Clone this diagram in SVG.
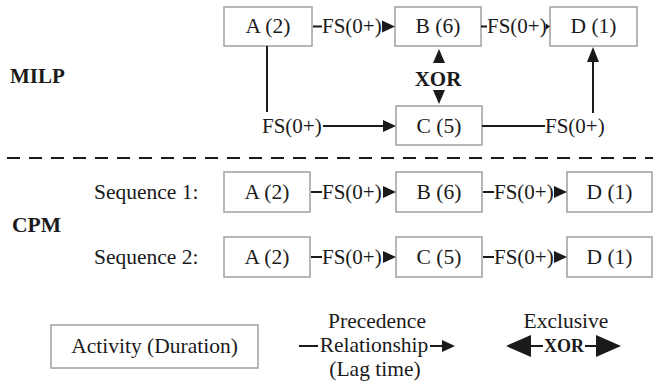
<svg xmlns="http://www.w3.org/2000/svg" width="653" height="382" viewBox="0 0 653 382">
<style>
text{font-family:"Liberation Serif","Times New Roman",serif;fill:#1a1a1a}
.lbl{font-size:21.5px;text-anchor:middle}
.fs{font-size:21px}
.mid{text-anchor:middle}
.b{font-weight:bold}
.box{fill:#fff;stroke:#a0a0a0;stroke-width:1.5}
.ln{stroke:#1a1a1a;stroke-width:2;fill:none}
.ah{fill:#1a1a1a}
</style>
<rect width="653" height="382" fill="#fff"/>
<g id="section-labels">
<text x="10" y="83" class="b" font-size="21">MILP</text>
<text x="12" y="232" class="b" font-size="21.5">CPM</text>
<line x1="7" y1="158" x2="653" y2="158" stroke="#1a1a1a" stroke-width="2" stroke-dasharray="13 9"/>
<text x="94" y="199" font-size="21.5">Sequence 1:</text>
<text x="94" y="264" font-size="21.5">Sequence 2:</text>
</g>
<g id="milp-A"><rect class="box" x="224" y="7" width="88" height="39"/><text class="lbl" x="268" y="33">A (2)</text></g>
<g id="milp-B"><rect class="box" x="395" y="7" width="86" height="39"/><text class="lbl" x="438" y="33">B (6)</text></g>
<g id="milp-D"><rect class="box" x="550" y="7" width="87" height="39"/><text class="lbl" x="593.5" y="33">D (1)</text></g>
<g id="milp-C"><rect class="box" x="396" y="106" width="86" height="39"/><text class="lbl" x="439" y="133">C (5)</text></g>
<g id="seq1-A"><rect class="box" x="224" y="172" width="86" height="40"/><text class="lbl" x="267" y="199">A (2)</text></g>
<g id="seq1-B"><rect class="box" x="396" y="172" width="86" height="40"/><text class="lbl" x="439" y="199">B (6)</text></g>
<g id="seq1-D"><rect class="box" x="567" y="172" width="85" height="40"/><text class="lbl" x="609.5" y="199">D (1)</text></g>
<g id="seq2-A"><rect class="box" x="224" y="237" width="86" height="40"/><text class="lbl" x="267" y="264">A (2)</text></g>
<g id="seq2-C"><rect class="box" x="396" y="237" width="86" height="40"/><text class="lbl" x="439" y="264">C (5)</text></g>
<g id="seq2-D"><rect class="box" x="567" y="237" width="85" height="40"/><text class="lbl" x="609.5" y="264">D (1)</text></g>
<g id="legend-activity"><rect class="box" x="51" y="325" width="207" height="43"/><text class="lbl" x="154.5" y="353">Activity (Duration)</text></g>
<g id="connectors">
<line class="ln" x1="313" y1="26.5" x2="322" y2="26.5"/>
<text class="fs" x="322" y="33">FS(0+)</text>
<polygon class="ah" points="382,20.5 395,26.5 382,32.5"/>
<line class="ln" x1="481" y1="26.5" x2="487" y2="26.5"/>
<text class="fs" x="487" y="33">FS(0+)</text>
<polygon class="ah" points="546,23.5 550,26.5 546,29.5"/>
<polygon class="ah" points="439,49 445,63 433,63"/>
<text x="438" y="86" class="b mid" font-size="21">XOR</text>
<polygon class="ah" points="433,90 445,90 439,104"/>
<line class="ln" x1="267" y1="46" x2="267" y2="112"/>
<text class="fs" x="262" y="133">FS(0+)</text>
<line class="ln" x1="323" y1="126" x2="384" y2="126"/>
<polygon class="ah" points="383,120 396,126 383,132"/>
<line class="ln" x1="482" y1="126" x2="545" y2="126"/>
<text class="fs" x="545" y="133">FS(0+)</text>
<line class="ln" x1="593" y1="113" x2="593" y2="61"/>
<polygon class="ah" points="587,62 593,47 599,62"/>
<line class="ln" x1="311" y1="192" x2="322" y2="192"/>
<text class="fs" x="322" y="199">FS(0+)</text>
<polygon class="ah" points="383,186 396,192 383,198"/>
<line class="ln" x1="483" y1="192" x2="494" y2="192"/>
<text class="fs" x="494" y="199">FS(0+)</text>
<polygon class="ah" points="554,186 567,192 554,198"/>
<line class="ln" x1="311" y1="257" x2="322" y2="257"/>
<text class="fs" x="322" y="264">FS(0+)</text>
<polygon class="ah" points="383,251 396,257 383,263"/>
<line class="ln" x1="483" y1="257" x2="494" y2="257"/>
<text class="fs" x="494" y="264">FS(0+)</text>
<polygon class="ah" points="554,251 567,257 554,263"/>
</g>
<g id="legend-precedence">
<text class="lbl" x="377" y="328">Precedence</text>
<line class="ln" x1="299" y1="346" x2="318" y2="346"/>
<text class="lbl" x="374" y="352">Relationship</text>
<line class="ln" x1="430" y1="346" x2="443" y2="346"/>
<polygon class="ah" points="442,340 455,346 442,352"/>
<text class="lbl" x="375" y="376">(Lag time)</text>
</g>
<g id="legend-exclusive">
<text class="lbl" x="566" y="328">Exclusive</text>
<polygon class="ah" points="506,346 531,335 531,357"/>
<line class="ln" x1="530" y1="346" x2="543" y2="346"/>
<text x="564" y="352" class="b mid" font-size="18">XOR</text>
<line class="ln" x1="585" y1="346" x2="597" y2="346"/>
<polygon class="ah" points="596,335 621,346 596,357"/>
</g>
</svg>
